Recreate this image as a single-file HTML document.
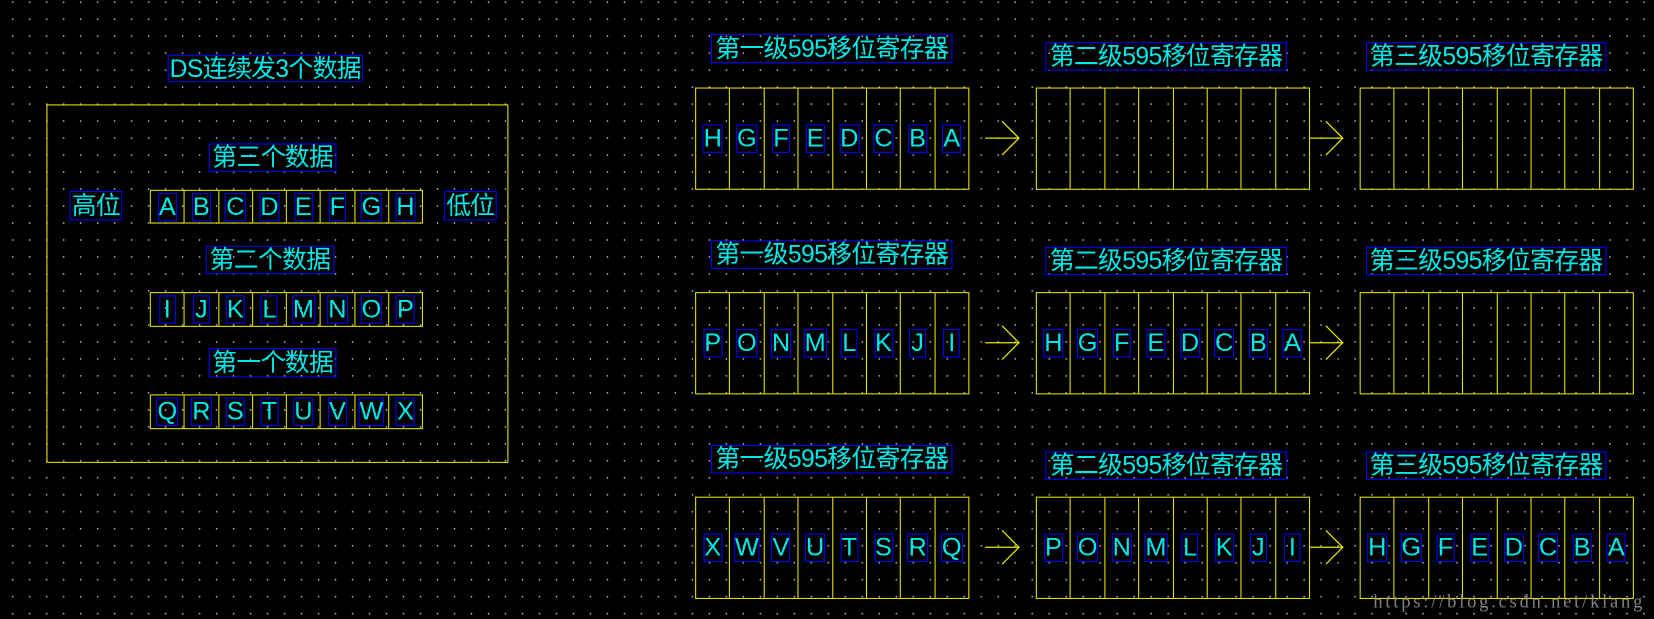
<!DOCTYPE html>
<html><head><meta charset="utf-8"><style>
html,body{margin:0;padding:0;background:#000;overflow:hidden;}
#wrap{position:absolute;left:0;top:0;width:1568px;height:587px;transform:scale(1.0548,1.0545);transform-origin:0 0;
background-color:#000;background-image:radial-gradient(circle,#cfcfcf 0.6px,transparent 0.9px);background-size:16.12px 16.12px;background-position:4px -6px;
font-family:"Liberation Sans","Noto Sans CJK SC",sans-serif;color:#00e8e8;}
.a{position:absolute;}
.t{position:absolute;border:1px solid #0000ff;font-size:23.5px;line-height:25px;white-space:nowrap;text-align:center;box-sizing:border-box;letter-spacing:-0.6px;display:flex;justify-content:center;align-items:center;}
.reg{position:absolute;border:1px solid #e6e600;display:flex;box-sizing:border-box;}
.reg div{flex:1;border-left:1px solid #e6e600;display:flex;align-items:center;justify-content:center;}
.reg div:first-child{border-left:none;}
.reg span{border:1px solid #0000ff;font-size:24px;line-height:25px;padding:0;min-width:14px;text-align:center;}
.box{position:absolute;border:1px solid #e6e600;}
</style></head><body><div id="wrap">
<div class="t" style="left:159px;top:52px;width:185px;height:26px;">DS连续发3个数据</div>
<div class="box" style="left:44px;top:99px;width:436px;height:338px;"></div>
<div class="t" style="left:198px;top:136px;width:121px;height:27px;">第三个数据</div>
<div class="t" style="left:66px;top:181px;width:50px;height:28px;">高位</div>
<div class="t" style="left:421px;top:181px;width:50px;height:28px;">低位</div>
<div class="reg" style="left:142px;top:180px;width:259px;height:32px;"><div><span>A</span></div><div><span>B</span></div><div><span>C</span></div><div><span>D</span></div><div><span>E</span></div><div><span>F</span></div><div><span>G</span></div><div><span>H</span></div></div>
<div class="t" style="left:195px;top:233px;width:122px;height:27px;">第二个数据</div>
<div class="reg" style="left:142px;top:277px;width:259px;height:33px;"><div><span>I</span></div><div><span>J</span></div><div><span>K</span></div><div><span>L</span></div><div><span>M</span></div><div><span>N</span></div><div><span>O</span></div><div><span>P</span></div></div>
<div class="t" style="left:198px;top:330px;width:121px;height:28px;">第一个数据</div>
<div class="reg" style="left:142px;top:374px;width:259px;height:33px;"><div><span>Q</span></div><div><span>R</span></div><div><span>S</span></div><div><span>T</span></div><div><span>U</span></div><div><span>V</span></div><div><span>W</span></div><div><span>X</span></div></div>

<div class="t" style="left:674px;top:32px;width:229px;height:28px;">第一级595移位寄存器</div>
<div class="t" style="left:991px;top:40px;width:229px;height:27px;">第二级595移位寄存器</div>
<div class="t" style="left:1295px;top:40px;width:228px;height:27px;">第三级595移位寄存器</div>
<div class="reg" style="left:659px;top:83px;width:260px;height:97px;"><div><span>H</span></div><div><span>G</span></div><div><span>F</span></div><div><span>E</span></div><div><span>D</span></div><div><span>C</span></div><div><span>B</span></div><div><span>A</span></div></div>
<div class="reg" style="left:982px;top:83px;width:260px;height:97px;"><div></div><div></div><div></div><div></div><div></div><div></div><div></div><div></div></div>
<div class="reg" style="left:1289px;top:83px;width:260px;height:97px;"><div></div><div></div><div></div><div></div><div></div><div></div><div></div><div></div></div>

<div class="t" style="left:674px;top:228px;width:229px;height:27px;">第一级595移位寄存器</div>
<div class="t" style="left:991px;top:234px;width:229px;height:27px;">第二级595移位寄存器</div>
<div class="t" style="left:1295px;top:234px;width:228px;height:27px;">第三级595移位寄存器</div>
<div class="reg" style="left:659px;top:277px;width:260px;height:97px;"><div><span>P</span></div><div><span>O</span></div><div><span>N</span></div><div><span>M</span></div><div><span>L</span></div><div><span>K</span></div><div><span>J</span></div><div><span>I</span></div></div>
<div class="reg" style="left:982px;top:277px;width:260px;height:97px;"><div><span>H</span></div><div><span>G</span></div><div><span>F</span></div><div><span>E</span></div><div><span>D</span></div><div><span>C</span></div><div><span>B</span></div><div><span>A</span></div></div>
<div class="reg" style="left:1289px;top:277px;width:260px;height:97px;"><div></div><div></div><div></div><div></div><div></div><div></div><div></div><div></div></div>

<div class="t" style="left:674px;top:422px;width:229px;height:27px;">第一级595移位寄存器</div>
<div class="t" style="left:991px;top:428px;width:229px;height:27px;">第二级595移位寄存器</div>
<div class="t" style="left:1295px;top:428px;width:228px;height:27px;">第三级595移位寄存器</div>
<div class="reg" style="left:659px;top:471px;width:260px;height:97px;"><div><span>X</span></div><div><span>W</span></div><div><span>V</span></div><div><span>U</span></div><div><span>T</span></div><div><span>S</span></div><div><span>R</span></div><div><span>Q</span></div></div>
<div class="reg" style="left:982px;top:471px;width:260px;height:97px;"><div><span>P</span></div><div><span>O</span></div><div><span>N</span></div><div><span>M</span></div><div><span>L</span></div><div><span>K</span></div><div><span>J</span></div><div><span>I</span></div></div>
<div class="reg" style="left:1289px;top:471px;width:260px;height:97px;"><div><span>H</span></div><div><span>G</span></div><div><span>F</span></div><div><span>E</span></div><div><span>D</span></div><div><span>C</span></div><div><span>B</span></div><div><span>A</span></div></div>

<svg class="a" style="left:0;top:0" width="1568" height="587">
<g stroke="#e6e600" stroke-width="1.2" fill="none">
<path d="M934 131H966M950 115L966 131L950 147"/>
<path d="M1242 131H1273M1257 115L1273 131L1257 147"/>
<path d="M934 325H966M950 309L966 325L950 341"/>
<path d="M1242 325H1273M1257 309L1273 325L1257 341"/>
<path d="M934 519H966M950 503L966 519L950 535"/>
<path d="M1242 519H1273M1257 503L1273 519L1257 535"/>
</g>
<text x="1302" y="576" font-family="Liberation Serif, serif" font-size="17.5" fill="#9a9a9a" opacity="0.85" textLength="255" lengthAdjust="spacing">https://blog.csdn.net/klang</text>
</svg>
</div></body></html>
